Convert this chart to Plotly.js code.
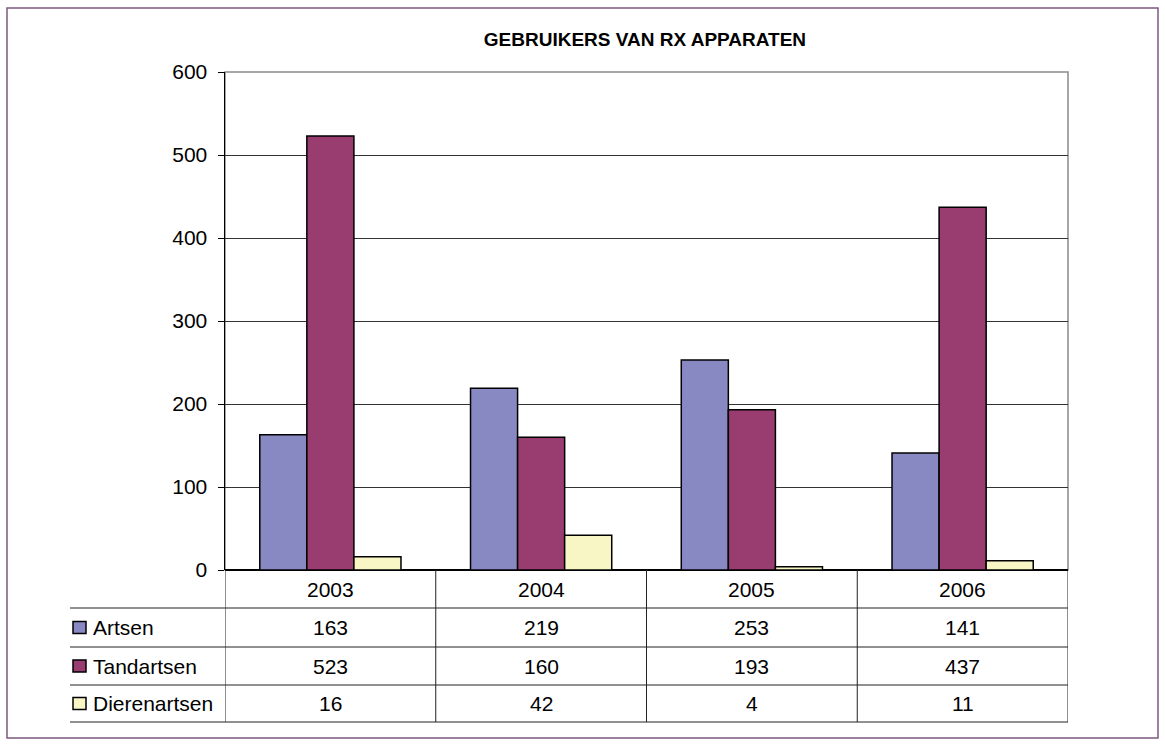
<!DOCTYPE html>
<html>
<head>
<meta charset="utf-8">
<script src="https://cdn.plot.ly/plotly-3.0.1.min.js"></script>
<style>
  body { margin: 0; background: #fff; }
  #chart { width: 1165px; height: 745px; }
</style>
</head>
<body>
<div id="chart"></div>
<script>
// data
var years = ['2003', '2004', '2005', '2006'];
var seriesNames = ['Artsen', 'Tandartsen', 'Dierenartsen'];
var artsen = [163, 219, 253, 141];
var tandartsen = [523, 160, 193, 437];
var dierenartsen = [16, 42, 4, 11];
var colors = ['#8888C2', '#993D70', '#F8F6C4'];

var values = [artsen, tandartsen, dierenartsen];
var FONT = 'Liberation Sans, Arial, sans-serif';
var TXT = 21;

var data = [];
for (var i = 0; i < seriesNames.length; i++) {
  data.push({
    x: years,
    y: values[i],
    type: 'bar',
    name: seriesNames[i],
    marker: { color: colors[i], line: { color: '#000', width: 1.5 } },
    hoverinfo: 'y+name'
  });
}

// plot area is 225..1068 px wide, 72..570 px tall -> table rows in paper units
var plotH = 498, plotW = 843;
function py(px) { return (570 - px) / plotH; }
function pxx(px) { return (px - 225) / plotW; }

var rowLines = [608, 647, 685, 722];
var rowMid = [589, 627.5, 666, 703.5];

var shapes = [];
var annotations = [];

// outer frame
shapes.push({
  type: 'rect', xref: 'paper', yref: 'paper',
  x0: pxx(7), x1: pxx(1158), y0: py(738), y1: py(8),
  line: { color: '#7E5A80', width: 1.5 }
});
// plot area border (top/right grey)
shapes.push({
  type: 'rect', xref: 'paper', yref: 'paper',
  x0: 0, x1: 1, y0: 0, y1: 1,
  line: { color: '#8a8a8a', width: 1.5 }, layer: 'below'
});

// horizontal table lines
rowLines.forEach(function (l) {
  shapes.push({
    type: 'line', xref: 'paper', yref: 'paper',
    x0: pxx(70), x1: 1, y0: py(l), y1: py(l),
    line: { color: '#222', width: 1 }
  });
});
// vertical table lines at category boundaries
for (var c = 0; c <= years.length; c++) {
  shapes.push({
    type: 'line', xref: 'x', yref: 'paper',
    x0: c - 0.5, x1: c - 0.5, y0: 0, y1: py(722),
    line: { color: '#222', width: 1 }
  });
}

// header row with years
years.forEach(function (yr, k) {
  annotations.push({
    xref: 'x', yref: 'paper', x: k, y: py(rowMid[0]),
    xanchor: 'center', yanchor: 'middle',
    text: yr, showarrow: false,
    font: { family: FONT, size: TXT, color: '#000' }
  });
});

// series rows
for (var s = 0; s < seriesNames.length; s++) {
  var yMid = py(rowMid[s + 1]);
  // legend key
  shapes.push({
    type: 'rect', xref: 'paper', yref: 'paper',
    x0: pxx(73), x1: pxx(86), y0: yMid - 6 / plotH, y1: yMid + 6 / plotH,
    fillcolor: colors[s], line: { color: '#000', width: 1.5 }
  });
  annotations.push({
    xref: 'paper', yref: 'paper', x: pxx(91), y: yMid,
    xanchor: 'left', yanchor: 'middle', text: seriesNames[s], showarrow: false,
    font: { family: FONT, size: TXT, color: '#000' }
  });
  for (var k = 0; k < years.length; k++) {
    annotations.push({
      xref: 'x', yref: 'paper', x: k, y: yMid,
      xanchor: 'center', yanchor: 'middle',
      text: String(values[s][k]), showarrow: false,
      font: { family: FONT, size: TXT, color: '#000' }
    });
  }
}

var layout = {
  width: 1165,
  height: 745,
  margin: { l: 225, r: 97, t: 72, b: 175 },
  title: {
    text: '<b>GEBRUIKERS VAN RX APPARATEN</b>',
    font: { family: FONT, size: 19, color: '#000' },
    x: 0.5536, xanchor: 'center', y: 1 - 39 / 745, yanchor: 'middle'
  },
  barmode: 'group',
  bargap: 0.33,
  bargroupgap: 0,
  showlegend: false,
  xaxis: {
    type: 'category',
    showticklabels: false,
    ticks: '',
    showgrid: false,
    zeroline: false,
    showline: false,
    range: [-0.5, 3.5]
  },
  yaxis: {
    range: [0, 600],
    dtick: 100,
    ticks: 'outside',
    ticklen: 6,
    tickcolor: '#000',
    showline: true,
    linecolor: '#000',
    linewidth: 1.5,
    showgrid: true,
    gridcolor: '#333',
    gridwidth: 1,
    zeroline: true,
    zerolinecolor: '#000',
    zerolinewidth: 1.5,
    tickfont: { family: FONT, size: TXT, color: '#000' },
    ticklabelstandoff: 6
  },
  shapes: shapes,
  annotations: annotations,
  plot_bgcolor: '#fff',
  paper_bgcolor: '#fff'
};

Plotly.newPlot('chart', data, layout, { displayModeBar: false, staticPlot: true });
</script>
</body>
</html>
